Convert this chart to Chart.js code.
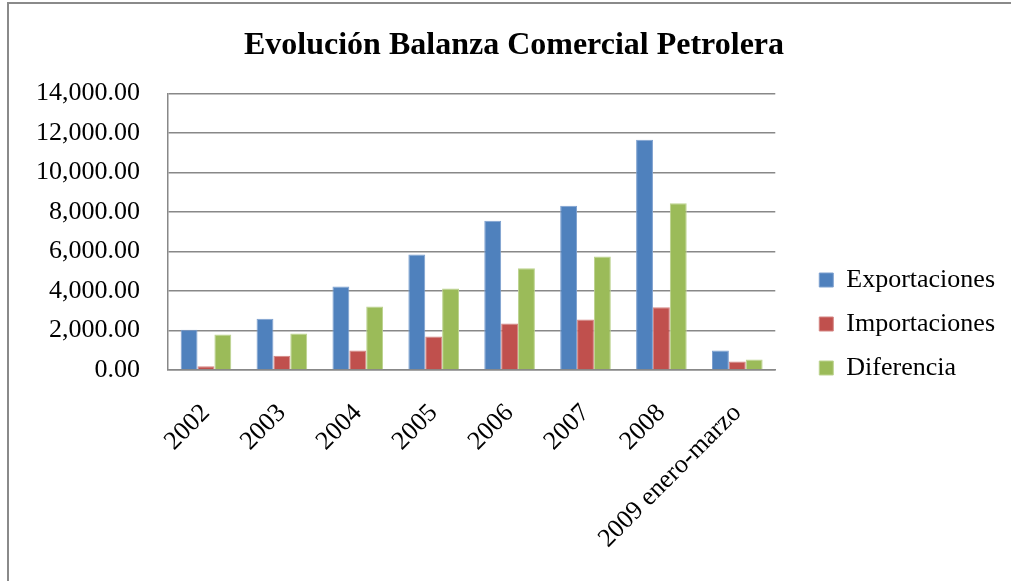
<!DOCTYPE html>
<html>
<head>
<meta charset="utf-8">
<script src="https://cdn.jsdelivr.net/npm/chart.js@4.4.1/dist/chart.umd.min.js"></script>
<style>
  html, body { margin: 0; padding: 0; background: #fff; }
  #wrap { width: 1011px; height: 581px; position: relative; }
</style>
</head>
<body>
<div id="wrap"><canvas id="c" width="1011" height="581"></canvas></div>
<script>
const categories = ["2002", "2003", "2004", "2005", "2006", "2007", "2008", "2009 enero-marzo"];
const exportaciones = [2035, 2590, 4230, 5850, 7550, 8315, 11655, 990];
const importaciones = [190, 720, 990, 1700, 2355, 2555, 3180, 430];
const diferencia = [1800, 1850, 3215, 4130, 5155, 5745, 8445, 530];
const seriesNames = ["Exportaciones", "Importaciones", "Diferencia"];
const yTicks = [0, 2000, 4000, 6000, 8000, 10000, 12000, 14000];

const FONT = '"Liberation Serif", "Times New Roman", serif';
const LEGEND_GAP = 26;
const LEGEND_TOP = 249;

const framePlugin = {
  id: 'frame',
  beforeDraw(chart) {
    const ctx = chart.ctx;
    ctx.save();
    ctx.fillStyle = '#ffffff';
    ctx.fillRect(0, 0, chart.width, chart.height);
    ctx.fillStyle = '#8a8a8a';
    ctx.fillRect(7, 2, chart.width - 7, 2);
    ctx.fillRect(7, 2, 2, chart.height - 2);
    ctx.restore();
  }
};

// leaves a gap between the plot area and the legend, and sets the legend's vertical start
const legendPlacePlugin = {
  id: 'legendPlace',
  beforeLayout(chart) {
    const lg = chart.legend;
    if (lg && !lg.__gapPatched) {
      const fit = lg.fit;
      lg.fit = function () { fit.call(this); this.width += LEGEND_GAP; };
      lg.__gapPatched = true;
    }
  },
  afterLayout(chart) {
    const lg = chart.legend;
    if (lg) {
      lg.left += LEGEND_GAP;
      lg.right += LEGEND_GAP;
      lg.top = LEGEND_TOP;
      lg.height = lg.bottom - lg.top;
    }
  }
};

new Chart(document.getElementById('c'), {
  type: 'bar',
  data: {
    labels: categories,
    datasets: [
      { label: seriesNames[0], data: exportaciones, backgroundColor: '#4F81BD', borderColor: '#7da0cf', borderWidth: 1 },
      { label: seriesNames[1], data: importaciones, backgroundColor: '#C0504D', borderColor: '#d48583', borderWidth: 1 },
      { label: seriesNames[2], data: diferencia, backgroundColor: '#9BBB59', borderColor: '#bcd38f', borderWidth: 1 }
    ]
  },
  options: {
    responsive: false,
    animation: false,
    devicePixelRatio: 1,
    layout: { padding: { left: 23, top: 0, right: 6, bottom: 0 } },
    datasets: { bar: { barPercentage: 1.0, categoryPercentage: 0.667 } },
    plugins: {
      title: {
        display: true,
        text: 'Evolución Balanza Comercial Petrolera',
        color: '#000',
        font: { family: FONT, size: 32, weight: 'bold' },
        padding: { top: 27, bottom: 28 }
      },
      legend: {
        position: 'right',
        align: 'start',
        labels: {
          color: '#000',
          font: { family: FONT, size: 26 },
          boxWidth: 14,
          boxHeight: 14,
          padding: 18
        }
      },
      tooltip: { enabled: false }
    },
    scales: {
      x: {
        grid: { display: false, drawTicks: false },
        border: { display: true, color: '#888', width: 1.5 },
        ticks: {
          color: '#000',
          font: { family: FONT, size: 26 },
          minRotation: 45,
          maxRotation: 45,
          padding: 28
        },
        afterFit(scale) {
          scale.height = 211;
          scale.paddingLeft = 0;
          scale.paddingRight = 0;
        }
      },
      y: {
        min: 0,
        max: 14000,
        afterBuildTicks(scale) { scale.ticks = yTicks.map(v => ({ value: v })); },
        grid: { color: '#888', lineWidth: 1.5, drawTicks: false },
        border: { display: true, color: '#888', width: 1.5 },
        ticks: {
          color: '#000',
          font: { family: FONT, size: 26 },
          padding: 28,
          callback: (v) => Number(v).toLocaleString('en-US', { minimumFractionDigits: 2, maximumFractionDigits: 2 })
        },
        afterFit(scale) { scale.width = 145; }
      }
    }
  },
  plugins: [framePlugin, legendPlacePlugin]
});
</script>
</body>
</html>
